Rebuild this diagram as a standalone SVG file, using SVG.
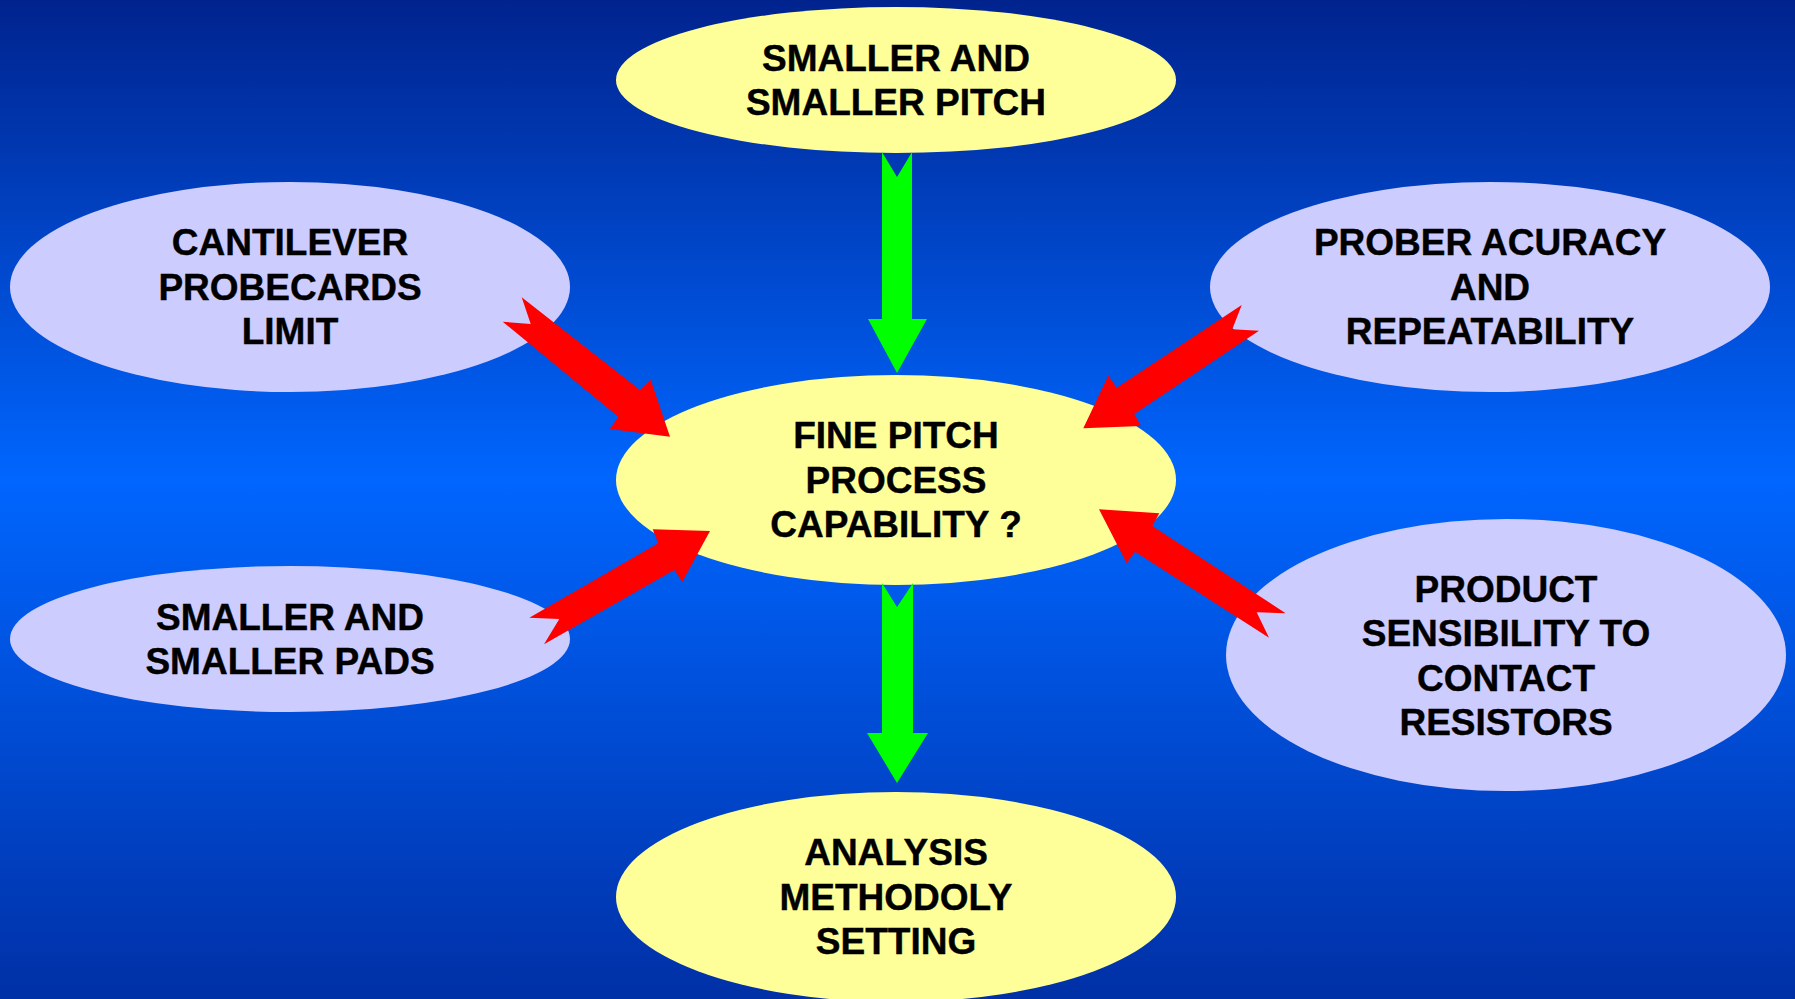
<svg xmlns="http://www.w3.org/2000/svg" width="1795" height="999" viewBox="0 0 1795 999">
<defs>
<linearGradient id="bg" x1="0" y1="0" x2="0" y2="1">
<stop offset="0" stop-color="#00238E"/>
<stop offset="0.48" stop-color="#0066FF"/>
<stop offset="1" stop-color="#0030A6"/>
</linearGradient>
<style>
.y{fill:#FFFF99}
.l{fill:#CCCCFF}
.t{font-family:"Liberation Sans",Arial,sans-serif;font-weight:bold;font-size:37px;fill:#000;stroke:#000;stroke-width:0.4;text-anchor:middle}
.r{fill:#FF0000}
.g{fill:#00FF00}
</style>
</defs>
<rect x="0" y="0" width="1795" height="999" fill="url(#bg)"/>
<g id="node-top">
<ellipse class="y" cx="896" cy="80" rx="280" ry="73"/>
<text class="t" x="896" y="70.6">SMALLER AND</text>
<text class="t" x="896" y="115.1">SMALLER PITCH</text>
</g>
<g id="node-cantilever">
<ellipse class="l" cx="290" cy="287" rx="280" ry="105"/>
<text class="t" x="290" y="255.4">CANTILEVER</text>
<text class="t" x="290" y="299.9">PROBECARDS</text>
<text class="t" x="290" y="344.4">LIMIT</text>
</g>
<g id="node-prober">
<ellipse class="l" cx="1490" cy="287" rx="280" ry="105"/>
<text class="t" x="1490" y="255.4">PROBER ACURACY</text>
<text class="t" x="1490" y="299.9">AND</text>
<text class="t" x="1490" y="344.4">REPEATABILITY</text>
</g>
<g id="node-pads">
<ellipse class="l" cx="290" cy="639" rx="280" ry="73"/>
<text class="t" x="290" y="629.6">SMALLER AND</text>
<text class="t" x="290" y="674.1">SMALLER PADS</text>
</g>
<g id="node-product">
<ellipse class="l" cx="1506" cy="655" rx="280" ry="136"/>
<text class="t" x="1506" y="601.9">PRODUCT</text>
<text class="t" x="1506" y="646.4">SENSIBILITY TO</text>
<text class="t" x="1506" y="690.9">CONTACT</text>
<text class="t" x="1506" y="735.4">RESISTORS</text>
</g>
<g id="node-center">
<ellipse class="y" cx="896" cy="480" rx="280" ry="105"/>
<text class="t" x="896" y="448.4">FINE PITCH</text>
<text class="t" x="896" y="492.9">PROCESS</text>
<text class="t" x="896" y="537.4">CAPABILITY ?</text>
</g>
<g id="node-analysis">
<ellipse class="y" cx="896" cy="897" rx="280" ry="105"/>
<text class="t" x="896" y="865.4">ANALYSIS</text>
<text class="t" x="896" y="909.9">METHODOLY</text>
<text class="t" x="896" y="954.4">SETTING</text>
</g>
<g id="connectors">
<polygon class="g" points="882,152 897,177 912,152 912,319 927,319 897,373 868,319 882,319"/>
<polygon class="g" points="882,583 897,607 913,583 913,733 928,733 897,783 867,733 882,733"/>
<polygon class="r" points="521.7,297.3 640,390 650.7,380 670,436.7 610,429 618.3,416.7 502.7,321.7 530.7,324"/>
<polygon class="r" points="529.3,617.7 658.3,543.3 652.7,529.3 710,531 682.3,581.7 674.3,570 544,644.3 559.3,619"/>
<polygon class="r" points="1241.7,305 1232.3,329.3 1259,330.7 1134.3,414 1141,426 1083.3,428.3 1108.3,375.7 1116.7,387.7"/>
<polygon class="r" points="1099,509.3 1159.3,513.3 1152.3,526 1285.7,613.3 1256.7,612.3 1269,637.7 1135,551.7 1126.7,563.3"/>
</g>
</svg>
